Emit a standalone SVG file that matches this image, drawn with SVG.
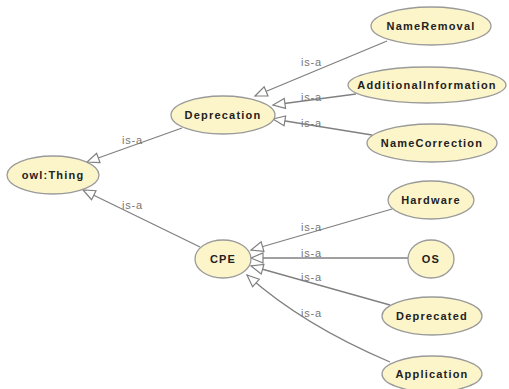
<svg xmlns="http://www.w3.org/2000/svg" width="509" height="389" viewBox="0 0 509 389">
<style>
.node ellipse{fill:#fcf5c9;stroke:#9a9a9a;stroke-width:1.3}
.node text{font-family:"Liberation Sans",Arial,sans-serif;font-size:11px;font-weight:bold;fill:#222;text-anchor:middle;letter-spacing:1.2px}
.edge{fill:none;stroke:#808080;stroke-width:1.3;marker-end:url(#tri)}
.lbl{font-family:"Liberation Sans",Arial,sans-serif;font-size:11px;fill:#777;letter-spacing:0.8px}
</style>
<defs>
<marker id="tri" markerUnits="userSpaceOnUse" markerWidth="14" markerHeight="12" refX="12" refY="5" orient="auto" overflow="visible">
<path d="M0,0 L12,5 L0,10 Z" fill="#fff" stroke="#808080" stroke-width="1.2"/>
</marker>
</defs>
<rect width="509" height="389" fill="#fff"/>
<g id="connectors">
<path class="edge" d="M182,128 L87,162"/>
<path class="edge" d="M200,247 L83,190"/>
<path class="edge" d="M387,41 L255,96"/>
<path class="edge" d="M356,94 L273,105"/>
<path class="edge" d="M372,135 L273,119"/>
<path class="edge" d="M392,209 L251,250"/>
<path class="edge" d="M408,258 L251,258"/>
<path class="edge" d="M390,305 L251,266"/>
<path class="edge" d="M390,362 C350,345 295,318 247,275"/>
<text class="lbl" x="122" y="144">is-a</text>
<text class="lbl" x="122" y="209">is-a</text>
<text class="lbl" x="301" y="66">is-a</text>
<text class="lbl" x="301" y="101">is-a</text>
<text class="lbl" x="301" y="127">is-a</text>
<text class="lbl" x="301" y="231">is-a</text>
<text class="lbl" x="301" y="257">is-a</text>
<text class="lbl" x="301" y="281">is-a</text>
<text class="lbl" x="301" y="317">is-a</text>
</g>
<g id="owlThing" class="node"><ellipse cx="53" cy="175" rx="46" ry="19"/><text x="53" y="179">owl:Thing</text></g>
<g id="Deprecation" class="node"><ellipse cx="223" cy="115" rx="52" ry="19"/><text x="223" y="119">Deprecation</text></g>
<g id="NameRemoval" class="node"><ellipse cx="431" cy="26" rx="60" ry="19"/><text x="431" y="30">NameRemoval</text></g>
<g id="AdditionalInformation" class="node"><ellipse cx="427" cy="85" rx="79" ry="18"/><text x="427" y="89">AdditionalInformation</text></g>
<g id="NameCorrection" class="node"><ellipse cx="432" cy="143" rx="65" ry="19"/><text x="432" y="147">NameCorrection</text></g>
<g id="Hardware" class="node"><ellipse cx="431" cy="200" rx="43" ry="19"/><text x="431" y="204">Hardware</text></g>
<g id="CPE" class="node"><ellipse cx="223" cy="259" rx="28" ry="19"/><text x="223" y="263">CPE</text></g>
<g id="OS" class="node"><ellipse cx="431" cy="259" rx="23" ry="19"/><text x="431" y="263">OS</text></g>
<g id="Deprecated" class="node"><ellipse cx="432" cy="316" rx="50" ry="19"/><text x="432" y="320">Deprecated</text></g>
<g id="Application" class="node"><ellipse cx="432" cy="374" rx="50" ry="18"/><text x="432" y="378">Application</text></g>
</svg>
